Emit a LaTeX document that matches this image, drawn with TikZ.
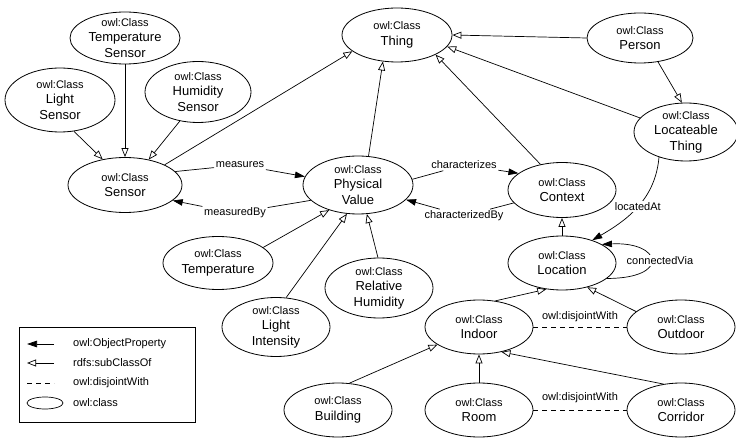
\documentclass[tikz,border=0pt]{standalone}
\usepackage{fontspec}
\setmainfont{Liberation Sans}
\usetikzlibrary{shapes.geometric,arrows.meta}
\newcommand{\ocl}{{\fontsize{11}{13}\selectfont owl:Class}}
\tikzset{
  cls/.style={ellipse, draw, line width=0.8pt, inner sep=0pt},
  ctext/.style={align=center, font=\fontsize{13}{15.5}\selectfont, inner sep=0pt},
  elab/.style={font=\fontsize{11}{13}\selectfont, inner sep=1.5pt},
  leglab/.style={font=\fontsize{11}{13}\selectfont, inner sep=0pt, anchor=west},
  sub/.style={draw, line width=0.7pt, -{Triangle[open, length=9pt, width=7pt]}},
  obj/.style={draw, line width=0.7pt, -{Triangle[length=10pt, width=6.5pt]}},
  disj/.style={draw, line width=0.7pt, dash pattern=on 5pt off 4pt},
}
\begin{document}
\begin{tikzpicture}[x=1pt, y=-1pt]
\useasboundingbox (0,0) rectangle (736,438);

% classes
\node[cls, minimum width=110pt, minimum height=52pt, label={[ctext]center:{\ocl\\Temperature\\Sensor}}] (ts) at (125,38) {};
\node[cls, minimum width=110pt, minimum height=64pt, label={[ctext]center:{\ocl\\Light\\Sensor}}] (ls) at (60,100) {};
\node[cls, minimum width=106pt, minimum height=61pt, label={[ctext]center:{\ocl\\Humidity\\Sensor}}] (hs) at (198,92) {};
\node[cls, minimum width=114pt, minimum height=55pt, label={[ctext]center:{\ocl\\Sensor}}] (sensor) at (125,185) {};
\node[cls, minimum width=110pt, minimum height=54pt, label={[ctext]center:{\ocl\\Thing}}] (thing) at (397,35) {};
\node[cls, minimum width=110pt, minimum height=58pt, label={[ctext]center:{\ocl\\Physical\\Value}}] (pv) at (358,185) {};
\node[cls, minimum width=106pt, minimum height=50pt, label={[ctext]center:{\ocl\\Person}}] (person) at (640,38) {};
\node[cls, minimum width=104pt, minimum height=58pt, label={[ctext]center:{\ocl\\Locateable\\Thing}}] (lt) at (686,132) {};
\node[cls, minimum width=108pt, minimum height=55pt, label={[ctext]center:{\ocl\\Context}}] (context) at (562,190) {};
\node[cls, minimum width=108pt, minimum height=54pt, label={[ctext]center:{\ocl\\Location}}] (location) at (562,263) {};
\node[cls, minimum width=108pt, minimum height=54pt, label={[ctext]center:{\ocl\\Outdoor}}] (outdoor) at (681,327) {};
\node[cls, minimum width=108pt, minimum height=54pt, label={[ctext]center:{\ocl\\Indoor}}] (indoor) at (479,327) {};
\node[cls, minimum width=108pt, minimum height=54pt, label={[ctext]center:{\ocl\\Corridor}}] (corridor) at (681,410) {};
\node[cls, minimum width=108pt, minimum height=54pt, label={[ctext]center:{\ocl\\Room}}] (room) at (479,410) {};
\node[cls, minimum width=108pt, minimum height=54pt, label={[ctext]center:{\ocl\\Building}}] (building) at (338,410) {};
\node[cls, minimum width=108pt, minimum height=60pt, label={[ctext]center:{\ocl\\Relative\\Humidity}}] (rh) at (379,288) {};
\node[cls, minimum width=108pt, minimum height=59pt, label={[ctext]center:{\ocl\\Light\\Intensity}}] (li) at (276,327) {};
\node[cls, minimum width=110pt, minimum height=53pt, label={[ctext]center:{\ocl\\Temperature}}] (temp) at (218,263) {};

% subclass edges
\draw[sub] (ts) -- (sensor);
\draw[sub] (ls.-66) -- (sensor.131);
\draw[sub] (hs.-122) -- (sensor.47);
\draw[sub] (sensor.27) -- (thing.-160);
\draw[sub] (pv.70) -- (thing.-118);
\draw[sub] (context.130) -- (thing.-27);
\draw[sub] (person.west) -- (thing.east);
\draw[sub] (lt.163) -- (thing.-13);
\draw[sub] (person.-53) -- (lt.98);
\draw[sub] (temp.19) -- (pv.-139);
\draw[sub] (li.71) -- (pv.-111);
\draw[sub] (rh.92) -- (pv.-73);
\draw[sub] (location) -- (context);
\draw[sub] (indoor.58) -- (location.-121);
\draw[sub] (outdoor.161) -- (location.-44);
\draw[sub] (building.67) -- (indoor.-157);
\draw[sub] (room) -- (indoor);
\draw[sub] (corridor.124) -- (indoor.-48);

% object properties
\node[elab] (ms) at (240,165) {measures};
\draw[obj] (sensor.15) -- (ms) -- (pv.171);
\node[elab] (mb) at (235,213) {measuredBy};
\draw[obj] (pv.-162) -- (mb) -- (sensor.-18);
\node[elab] (ch) at (464,165) {characterizes};
\draw[obj] (pv.6) -- (ch) -- (context.159);
\node[elab] (cb) at (464,216) {characterizedBy};
\draw[obj] (context.-165) -- (cb) -- (pv.-17);
\draw[obj] (lt.-137) to[out=-95, in=30] node[elab, fill=white] (la) {locatedAt} (location.37);
\draw[obj] (location.-19) .. controls +(64,0) and +(60,-3) .. node[elab, fill=white, xshift=9pt] (cv) {connectedVia} (location.25);

% disjoint
\draw[disj] (indoor) -- node[elab, yshift=10pt] (dj1) {owl:disjointWith} (outdoor);
\draw[disj] (room) -- node[elab, yshift=12pt] (dj2) {owl:disjointWith} (corridor);

% legend
\node[draw, line width=0.7pt, minimum width=176pt, minimum height=95pt, inner sep=0pt] (legend) at (107,374.5) {};
\coordinate (l1a) at (27,344); \coordinate (l1b) at (54,344);
\coordinate (l2a) at (27,363); \coordinate (l2b) at (54,363);
\coordinate (l3a) at (27,383); \coordinate (l3b) at (54,383);
\draw[obj] (l1b) -- (l1a);
\draw[sub] (l2b) -- (l2a);
\draw[disj] (l3a) -- (l3b);
\node[ellipse, draw, line width=0.7pt, minimum width=36pt, minimum height=12pt, inner sep=0pt] (l4) at (45,403) {};
\node[leglab] (t1) at (73,344) {owl:ObjectProperty};
\node[leglab] (t2) at (73,363) {rdfs:subClassOf};
\node[leglab] (t3) at (73,383) {owl:disjointWith};
\node[leglab] (t4) at (73,403) {owl:class};
\end{tikzpicture}
\end{document}
